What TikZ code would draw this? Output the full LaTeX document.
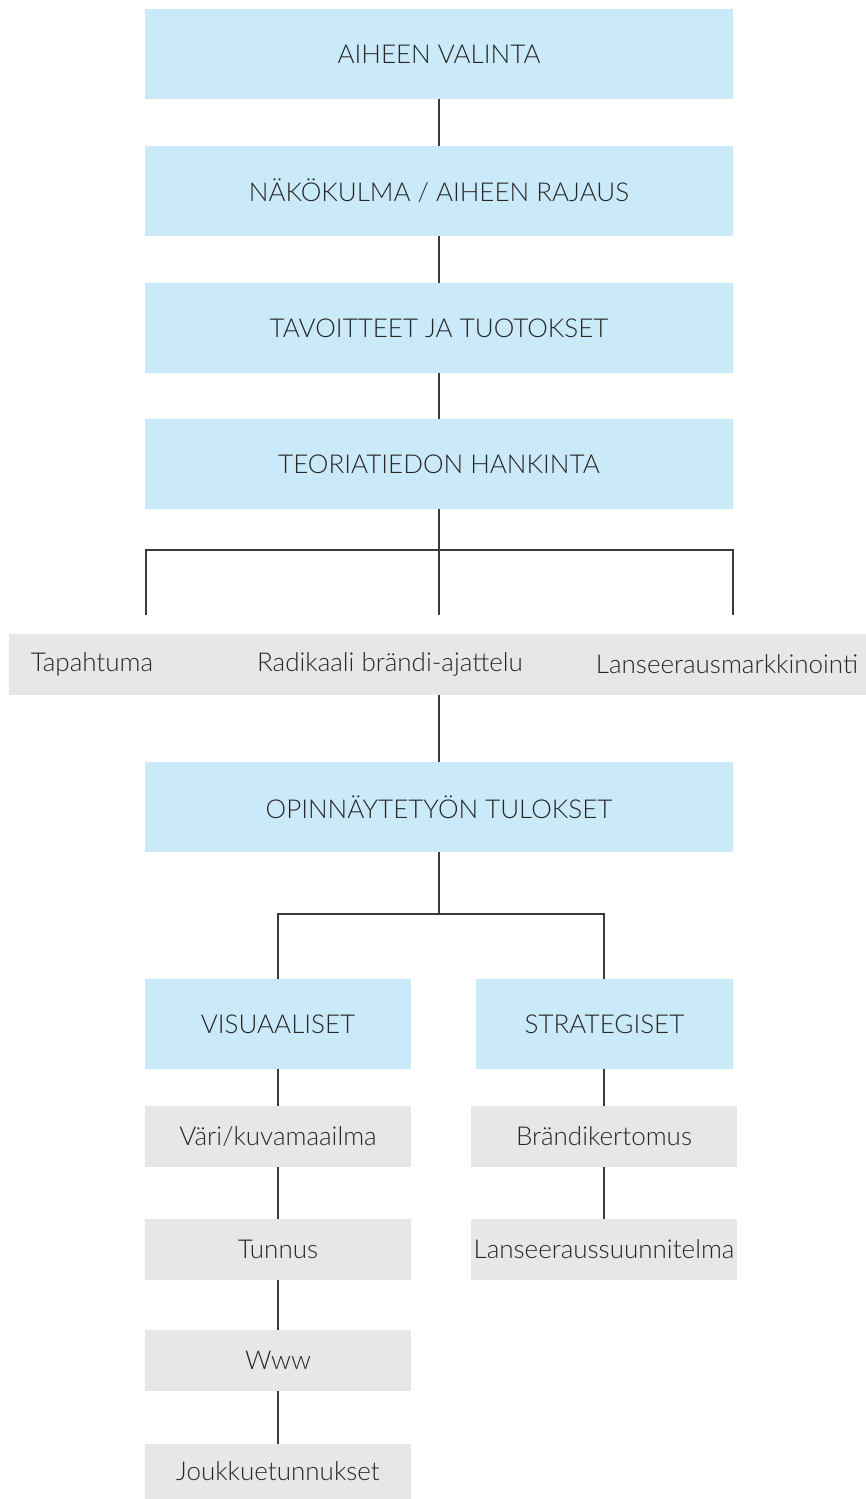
\documentclass[tikz,border=0pt]{standalone}
\usepackage{fontspec}
\setmainfont{Lato}[UprightFont=* Light]
\definecolor{boxblue}{HTML}{CBEAF9}
\definecolor{boxgray}{HTML}{E6E7E8}
\definecolor{txt}{HTML}{262626}
\definecolor{ln}{HTML}{3A3A3A}
\begin{document}
\begin{tikzpicture}[x=1pt,y=-1pt,
  base/.style={rectangle,inner sep=0pt,text=txt,font=\fontsize{26}{30}\selectfont},
  bluebox/.style={base,fill=boxblue,minimum height=90pt},
  graybox/.style={base,fill=boxgray,minimum height=61pt},
  plain/.style={base},
  conn/.style={draw=ln,line width=1.3pt}]
\useasboundingbox (0,0) rectangle (866,1499);
\node[bluebox,minimum width=588pt] (b1) at (439,54) {AIHEEN VALINTA};
\node[bluebox,minimum width=588pt] (b2) at (439,191) {NÄKÖKULMA / AIHEEN RAJAUS};
\node[bluebox,minimum width=588pt] (b3) at (439,328) {TAVOITTEET JA TUOTOKSET};
\node[bluebox,minimum width=588pt] (b4) at (439,464) {TEORIATIEDON HANKINTA};
\node[graybox,minimum width=857pt] (band) at (437.5,664.5) {};
\node[plain] (t1) at (92,664) {Tapahtuma};
\node[plain] (t2) at (390,664) {Radikaali brändi-ajattelu};
\node[plain] (t3) at (727,664) {Lanseerausmarkkinointi};
\node[bluebox,minimum width=588pt] (b5) at (439,807) {OPINNÄYTETYÖN TULOKSET};
\node[bluebox,minimum width=266pt] (vis) at (278,1024) {VISUAALISET};
\node[bluebox,minimum width=257pt] (str) at (604.5,1024) {STRATEGISET};
\node[graybox,minimum width=266pt] (vari) at (278,1136.5) {Väri/kuvamaailma};
\node[graybox,minimum width=266pt] (tun) at (278,1249.5) {Tunnus};
\node[graybox,minimum width=266pt] (www) at (278,1360.5) {Www};
\node[graybox,minimum width=266pt,minimum height=55pt] (jou) at (278,1471.5) {Joukkuetunnukset};
\node[graybox,minimum width=266pt] (bk) at (604,1136.5) {Brändikertomus};
\node[graybox,minimum width=266pt] (lp) at (604,1249.5) {Lanseeraussuunnitelma};
\coordinate (j1) at (439,550);
\coordinate (jl) at (146,550);
\coordinate (jr) at (733,550);
\coordinate (el) at (146,615);
\coordinate (ec) at (439,615);
\coordinate (er) at (733,615);
\coordinate (j2) at (439,914);
\coordinate (j2l) at (278,914);
\coordinate (j2r) at (604,914);
\draw[conn] (b1) -- (b2);
\draw[conn] (b2) -- (b3);
\draw[conn] (b3) -- (b4);
\draw[conn] (b4) -- (j1) -- (ec);
\draw[conn] (el) -- (jl) -- (jr) -- (er);
\draw[conn] (band.south -| b5.north) -- (b5);
\draw[conn] (b5) -- (j2);
\draw[conn] (vis.north) -- (j2l) -- (j2r) -- (j2r |- str.north);
\draw[conn] (vis) -- (vari);
\draw[conn] (vari) -- (tun);
\draw[conn] (tun) -- (www);
\draw[conn] (www) -- (jou);
\draw[conn] (bk.north) -- (bk.north |- str.south);
\draw[conn] (bk) -- (lp);
\end{tikzpicture}
\end{document}
